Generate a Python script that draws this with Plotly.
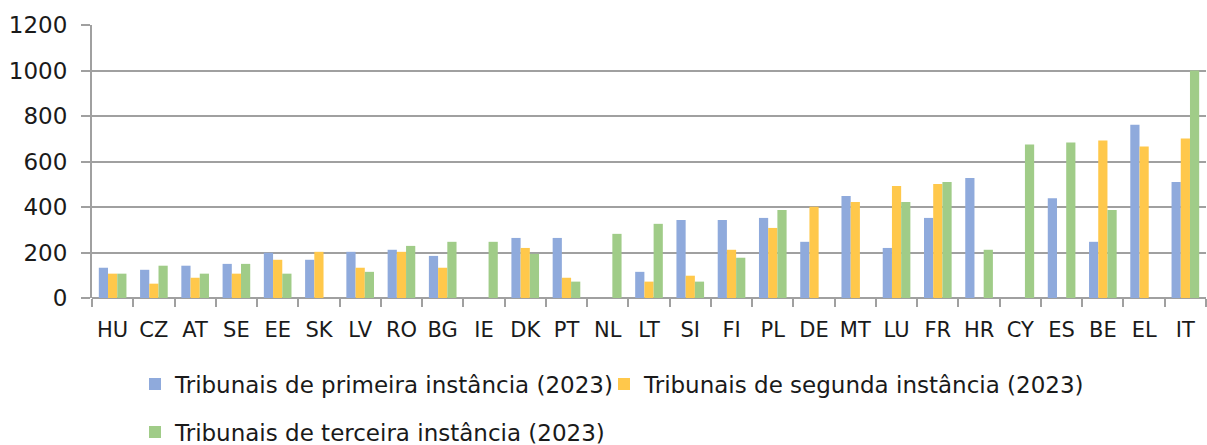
import plotly.graph_objects as go

categories = ["HU", "CZ", "AT", "SE", "EE", "SK", "LV", "RO", "BG", "IE", "DK", "PT", "NL", "LT",
              "SI", "FI", "PL", "DE", "MT", "LU", "FR", "HR", "CY", "ES", "BE", "EL", "IT"]
first_instance = [133, 124, 142, 150, 199, 168, 203, 212, 185, None, 264, 264, None, 115,
                  343, 343, 352, 247, 448, 220, 352, 527, None, 439, 247, 762, 510]
second_instance = [107, 63, 89, 107, 168, 203, 133, 203, 133, None, 220, 89, None, 72,
                   98, 212, 308, 401, 422, 492, 501, None, None, None, 692, 666, 701]
third_instance = [107, 142, 107, 150, 107, None, 115, 229, 247, 247, 194, 72, 282, 326,
                  72, 177, 387, None, None, 422, 510, 212, 675, 683, 387, None, 1000]
series_names = ["Tribunais de primeira instância (2023)",
                "Tribunais de segunda instância (2023)",
                "Tribunais de terceira instância (2023)"]
y_ticks = [0, 200, 400, 600, 800, 1000, 1200]

colors = ["#8FAADC", "#FFC84B", "#A0CC88"]
FONT = "DejaVu Sans"
TXT = "#1a1a1a"
GRID = "#a0a0a0"

fig = go.Figure()
for vals, name, col, leg in zip([first_instance, second_instance, third_instance],
                                series_names, colors, ["legend", "legend3", "legend2"]):
    fig.add_trace(go.Bar(x=categories, y=vals, name=name, marker=dict(color=col, line=dict(width=0)),
                         legend=leg, showlegend=True))

legend_common = dict(orientation="h", xref="container", yref="container", xanchor="left",
                     yanchor="middle", font=dict(family=FONT, size=23, color=TXT),
                     bgcolor="rgba(0,0,0,0)", itemwidth=30, visible=True)

fig.update_layout(
    width=1207, height=445,
    margin=dict(l=92, r=1, t=25, b=147),
    paper_bgcolor="white", plot_bgcolor="white",
    barmode="group", bargap=0.33, bargroupgap=0,
    showlegend=True,
    font=dict(family=FONT, color=TXT),
    legend=dict(x=135 / 1207, y=1 - 384 / 445, **legend_common),
    legend3=dict(x=604 / 1207, y=1 - 384 / 445, **legend_common),
    legend2=dict(x=135 / 1207, y=1 - 432 / 445, **legend_common),
    xaxis=dict(tickson="boundaries", ticks="outside", ticklen=8, tickwidth=2, tickcolor=GRID,
               showline=False, showgrid=False, tickfont=dict(family=FONT, size=21, color=TXT),
               ticklabelstandoff=17),
    yaxis=dict(range=[0, 1200], tickvals=y_ticks, ticks="outside", ticklen=9, tickwidth=2,
               tickcolor=GRID, showgrid=True, gridcolor=GRID, gridwidth=2,
               showline=True, linecolor=GRID, linewidth=2, zeroline=True, zerolinecolor=GRID,
               zerolinewidth=2, tickfont=dict(family=FONT, size=23, color=TXT),
               ticklabelstandoff=9),
)

fig.write_html("out.html", config={"displayModeBar": False},
               post_script="document.body.style.margin='0';document.body.style.overflow='hidden';")
